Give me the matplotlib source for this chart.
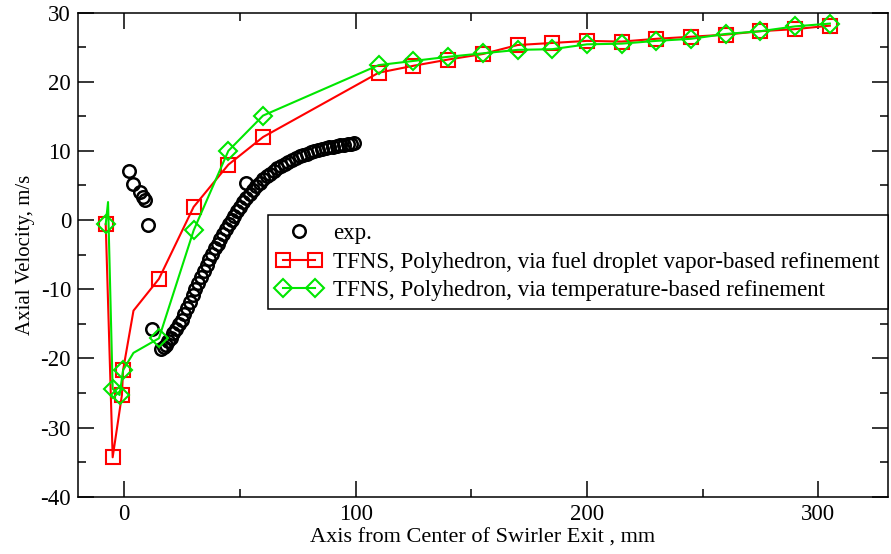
import matplotlib
matplotlib.use("Agg")
import matplotlib.pyplot as plt
from matplotlib.legend_handler import HandlerLine2D
from matplotlib.ticker import MultipleLocator

plt.rcParams["font.family"] = ["Liberation Serif", "DejaVu Serif"]
plt.rcParams["axes.unicode_minus"] = False

# experiment (black circles)
exp_x = [2.2, 3.9, 6.8, 8.2, 8.9, 10.4, 12.2, 52.5,
         16.0, 17.0, 18.0, 19.0, 20.0, 21.2, 22.4, 23.6, 24.8, 26.0,
         27.2, 28.4, 29.6, 30.8, 32.0, 33.2, 34.4, 35.6, 36.8, 38.0,
         39.2, 40.4, 41.6, 42.8, 44.0, 45.2, 46.4, 47.6, 48.8, 50.0,
         51.4, 52.8, 54.2, 55.6, 57.0, 58.5, 60.0, 61.5, 63.0, 64.6,
         66.2, 67.8, 69.4, 71.0, 72.6, 74.2, 75.8, 77.4, 79.0, 80.6,
         82.2, 83.8, 85.4, 87.0, 88.6, 90.2, 91.8, 93.4, 95.0, 96.6,
         98.2, 99.4]
exp_y = [7.1, 5.2, 4.0, 3.3, 2.9, -0.65, -15.8, 5.3,
         -18.6, -18.4, -18.0, -17.5, -17.0, -16.4, -15.8, -15.1, -14.4, -13.6,
         -12.7, -11.8, -10.9, -10.0, -9.1, -8.2, -7.3, -6.5, -5.7, -4.9,
         -4.1, -3.4, -2.7, -2.0, -1.3, -0.6, 0.0, 0.6, 1.3, 1.9,
         2.6, 3.2, 3.8, 4.4, 4.9, 5.4, 5.9, 6.3, 6.7, 7.1,
         7.5, 7.8, 8.1, 8.4, 8.7, 9.0, 9.2, 9.4, 9.6, 9.8,
         10.0, 10.1, 10.3, 10.4, 10.5, 10.6, 10.7, 10.8, 10.9, 11.0,
         11.0, 11.1]

# TFNS, fuel droplet vapor-based refinement (red squares)
vap_x = [-8, -5, -1, -0.5, 4, 15, 30, 45, 60, 110, 125, 140, 155, 170,
         185, 200, 215, 230, 245, 260, 275, 290, 305]
vap_y = [-0.6, -34.3, -25.3, -21.7, -13.1, -8.5, 1.9, 8.0, 12.0, 21.3, 22.3,
         23.2, 24.0, 25.3, 25.6, 25.9, 25.8, 26.2, 26.5, 26.8, 27.3, 27.6, 28.1]
vap_marks = [0, 1, 2, 3] + list(range(5, 23))

# TFNS, temperature-based refinement (green diamonds)
temp_x = [-8, -7, -5, -2, -0.5, 4, 15, 30, 45, 60, 110, 125, 140, 155, 170,
          185, 200, 215, 230, 245, 260, 275, 290, 305]
temp_y = [-0.6, 2.6, -24.4, -25.3, -21.7, -19.2, -17.1, -1.5, 10.0, 15.1,
          22.4, 23.0, 23.6, 24.1, 24.6, 24.7, 25.4, 25.5, 25.9, 26.2, 26.9,
          27.3, 28.0, 28.4]
temp_marks = [0, 2, 3, 4] + list(range(6, 24))

RED = "#ff0000"
GREEN = "#00e600"

fig = plt.figure(figsize=(8.91, 5.54), dpi=100)
ax = fig.add_axes([0.0875, 0.1034, 0.9088, 0.874])

exp_line, = ax.plot(exp_x, exp_y, ls="none", marker="o", ms=9,
                    mfc="none", mec="black", mew=1.8, label="exp.")
ax.plot(vap_x, vap_y, color=RED, lw=1.5, marker="s", ms=10, mfc="none",
        mec=RED, mew=1.5, markevery=vap_marks,
        label="TFNS, Polyhedron, via fuel droplet vapor-based refinement")
ax.plot(temp_x, temp_y, color=GREEN, lw=1.5, marker="D", ms=9, mfc="none",
        mec=GREEN, mew=1.5, markevery=temp_marks,
        label="TFNS, Polyhedron, via temperature-based refinement")

ax.set_xlim(-20, 330)
ax.set_ylim(-40, 30)
ax.xaxis.set_major_locator(MultipleLocator(100))
ax.xaxis.set_minor_locator(MultipleLocator(50))
ax.yaxis.set_major_locator(MultipleLocator(10))
ax.yaxis.set_minor_locator(MultipleLocator(5))
ax.tick_params(which="both", direction="in", top=True, right=True,
               labelsize=16.5, width=1.1)
ax.tick_params(which="major", length=11.5, pad=5)
ax.tick_params(which="minor", length=6)
for sp in ax.spines.values():
    sp.set_linewidth(1.1)

ax.set_xlabel("Axis from Center of Swirler Exit , mm", fontsize=16, labelpad=3)
ax.set_ylabel("Axial Velocity, m/s", fontsize=15, labelpad=4)

leg = ax.legend(loc="upper right", bbox_to_anchor=(1.0, 0.582),
                borderaxespad=0, fontsize=16.5, numpoints=2, fancybox=False,
                framealpha=1, edgecolor="black", handlelength=2.0,
                labelspacing=0.33, borderpad=0.35, handletextpad=0.5,
                handler_map={exp_line: HandlerLine2D(numpoints=1)})
leg.get_frame().set_linewidth(1.1)

fig.savefig("out.png", dpi=100)
